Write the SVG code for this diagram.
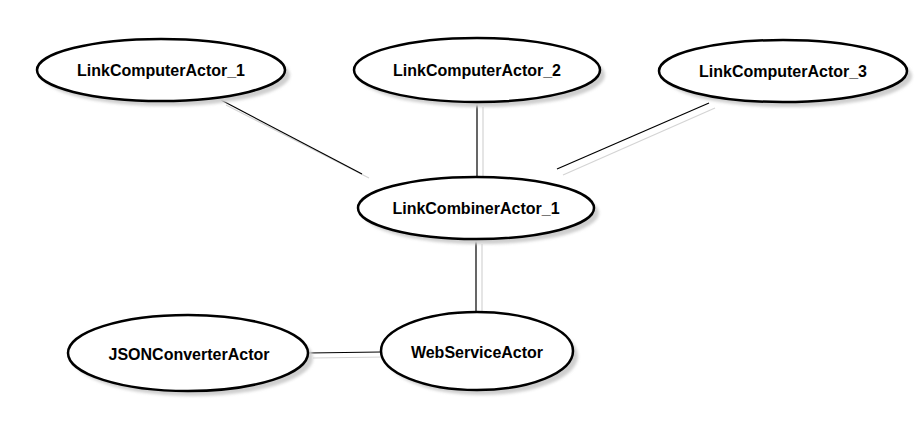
<svg xmlns="http://www.w3.org/2000/svg" width="924" height="422" viewBox="0 0 924 422">
<style>
.shadow{fill:#cfcfcf;filter:url(#blur)}
.node{fill:#fff;stroke:#000;stroke-width:2.5}
.label{font-family:"Liberation Sans",Arial,sans-serif;font-weight:bold;font-size:16px;fill:#000;text-anchor:middle}
.edge{stroke:#000;stroke-width:1.2;fill:none}
.eshadow{stroke:#d4d4d4;stroke-width:1.2;fill:none}
</style>
<defs>
<filter id="blur" x="-10%" y="-20%" width="120%" height="140%"><feGaussianBlur stdDeviation="1.5"/></filter>
</defs>
<rect width="924" height="422" fill="#fff"/>
<g id="connectors">
<line class="eshadow" x1="226" y1="105" x2="369" y2="178"/>
<line class="eshadow" x1="483" y1="107" x2="483" y2="180"/>
<line class="eshadow" x1="715" y1="108" x2="563" y2="175"/>
<line class="eshadow" x1="482" y1="244" x2="482" y2="316"/>
<line class="eshadow" x1="313" y1="358" x2="385" y2="357"/>
<line class="edge" x1="221" y1="100" x2="362" y2="174"/>
<line class="edge" x1="477" y1="102" x2="477" y2="177"/>
<line class="edge" x1="709" y1="103" x2="557" y2="169"/>
<line class="edge" x1="476" y1="239" x2="476" y2="312"/>
<line class="edge" x1="308" y1="353" x2="381" y2="352"/>
</g>
<g id="LinkComputerActor_1">
<ellipse class="shadow" cx="166" cy="75" rx="124" ry="31"/>
<ellipse class="node" cx="161" cy="70" rx="124" ry="31"/>
<text class="label" x="161" y="76">LinkComputerActor_1</text>
</g>
<g id="LinkComputerActor_2">
<ellipse class="shadow" cx="482" cy="75" rx="123" ry="32"/>
<ellipse class="node" cx="477" cy="70" rx="123" ry="32"/>
<text class="label" x="477" y="76">LinkComputerActor_2</text>
</g>
<g id="LinkComputerActor_3">
<ellipse class="shadow" cx="788" cy="76" rx="124" ry="31"/>
<ellipse class="node" cx="783" cy="71" rx="124" ry="31"/>
<text class="label" x="783" y="77">LinkComputerActor_3</text>
</g>
<g id="LinkCombinerActor_1">
<ellipse class="shadow" cx="481" cy="213" rx="118" ry="31"/>
<ellipse class="node" cx="476" cy="208" rx="118" ry="31"/>
<text class="label" x="476" y="214">LinkCombinerActor_1</text>
</g>
<g id="JSONConverterActor">
<ellipse class="shadow" cx="193" cy="358" rx="120" ry="38"/>
<ellipse class="node" cx="188" cy="353" rx="120" ry="38"/>
<text class="label" x="189" y="360">JSONConverterActor</text>
</g>
<g id="WebServiceActor">
<ellipse class="shadow" cx="482" cy="356" rx="96" ry="39"/>
<ellipse class="node" cx="477" cy="351" rx="96" ry="39"/>
<text class="label" x="477" y="358">WebServiceActor</text>
</g>
</svg>
